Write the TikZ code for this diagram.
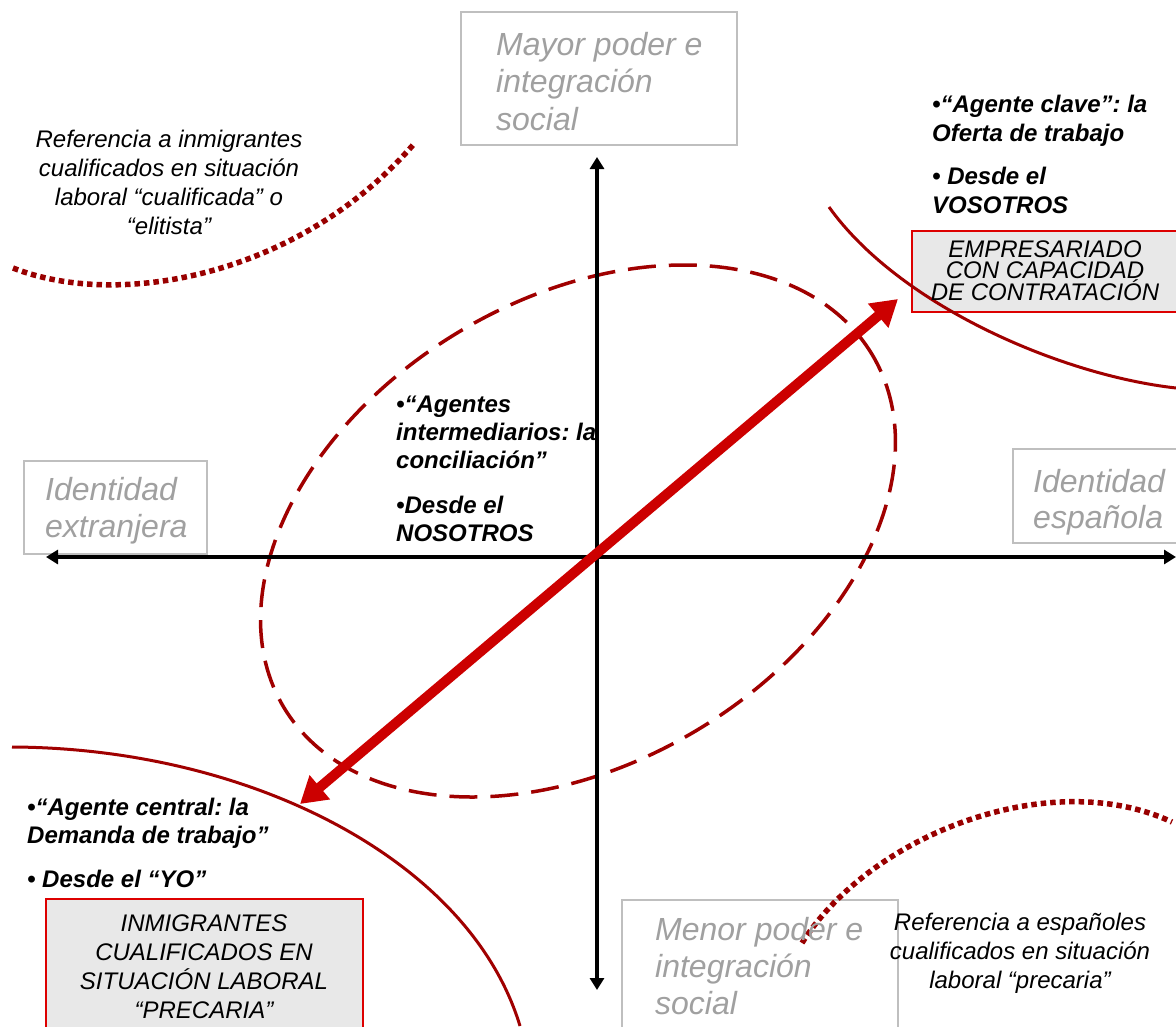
\documentclass[tikz,border=0pt]{standalone}
\usepackage{fontspec}
\setmainfont{Liberation Sans}
\usetikzlibrary{arrows.meta}
\definecolor{axred}{HTML}{CC0000}
\definecolor{dkred}{HTML}{A00000}
\definecolor{dotred}{HTML}{990000}
\definecolor{grtxt}{HTML}{A0A0A0}
\definecolor{grbox}{HTML}{BFBFBF}
\definecolor{boxfill}{HTML}{E8E8E8}
\definecolor{boxred}{HTML}{DD0000}
\frenchspacing
\begin{document}
\begin{tikzpicture}[x=1pt,y=-1pt,
 itxt/.style={inner sep=0pt, align=center, anchor=north, font=\itshape\fontsize{24}{29}\selectfont},
 btxt/.style={inner sep=0pt, align=left, anchor=north west, font=\bfseries\itshape\fontsize{24}{29}\selectfont},
 gtxt/.style={inner sep=0pt, text=grtxt, align=left, anchor=north west, font=\itshape\fontsize{32}{37}\selectfont},
 gbox/.style={draw=grbox, line width=2pt},
 rbox/.style={draw=boxred, fill=boxfill, line width=1.5pt},
 axisline/.style={line width=3.5pt, black, {Triangle[width=14pt,length=12pt]}-{Triangle[width=14pt,length=12pt]}},
 bigarrow/.style={line width=10pt, axred, {Triangle[width=30pt,length=26pt]}-{Triangle[width=30pt,length=26pt]}},
 solidcurve/.style={dkred, line width=3pt},
 dotcurve/.style={dotred, line width=5.5pt, dash pattern=on 5.5pt off 4pt},
 ellipsedash/.style={dkred, line width=3.5pt, dash pattern=on 28pt off 13pt}]
\useasboundingbox (0,0) rectangle (1176,1026);

% boxes
\draw[gbox] (461,12) rectangle (737,145);
\draw[gbox] (24,461) rectangle (207,554);
\draw[gbox] (1013,449) rectangle (1182,543);
\draw[gbox] (622,900) rectangle (898,1032);
\draw[rbox] (912,231) rectangle (1182,312);
\draw[rbox] (46,899) rectangle (363,1032);

% curves
\draw[solidcurve] (829,207) .. controls (899,305) and (1060,375) .. (1176,388);
\draw[solidcurve] (12,747) .. controls (250,748) and (470,860) .. (520,1026);
\draw[dotcurve] (13,268) .. controls (120,310) and (300,275) .. (413,145);
\draw[dotcurve] (802,943) .. controls (870,835) and (1050,765) .. (1172,822);

% ellipse
\draw[ellipsedash, rotate around={31:(578,531)}] (578,531) ellipse [x radius=343pt, y radius=232pt];

% axes
\coordinate (vtop) at (597,157);
\coordinate (vbot) at (597,990);
\coordinate (hleft) at (46,557);
\coordinate (hright) at (1176,557);
\draw[axisline] (vbot) -- (vtop);
\draw[axisline] (hleft) -- (hright);

% big arrow
\coordinate (ab) at (300,804);
\coordinate (at) at (898,299);
\draw[bigarrow] (ab) -- (at);

% texts
\node[itxt] (reftl) at (169,129) {\rule{0pt}{18pt}Referencia a inmigrantes\\cualificados en situación\\laboral “cualificada” o\\“elitista”};
\node[itxt] (refbr) at (1020,912) {\rule{0pt}{18pt}Referencia a españoles\\cualificados en situación\\laboral “precaria”};

\node[btxt] (clave) at (932,94) {\rule{0pt}{18pt}•“Agente clave”: la\\Oferta de trabajo\\[14pt]• Desde el\\VOSOTROS};
\node[btxt, font=\bfseries\itshape\fontsize{24}{28}\selectfont] (interm) at (396,394) {\rule{0pt}{18pt}•“Agentes\\intermediarios: la\\conciliación”\\[17pt]•Desde el\\NOSOTROS};
\node[btxt, font=\bfseries\itshape\fontsize{24}{28}\selectfont] (central) at (27,797) {\rule{0pt}{18pt}•“Agente central: la\\Demanda de trabajo”\\[16pt]• Desde el “YO”};

\node[gtxt, font=\itshape\fontsize{32}{37.5}\selectfont] (mayor) at (496,31) {\rule{0pt}{24pt}Mayor poder e\\integración\\social};
\node[gtxt] (extr) at (45,476) {\rule{0pt}{24pt}Identidad\\extranjera};
\node[gtxt, font=\itshape\fontsize{32}{36}\selectfont] (esp) at (1033,468) {\rule{0pt}{24pt}Identidad\\española};
\node[gtxt] (menor) at (655,916) {\rule{0pt}{24pt}Menor poder e\\integración\\social};

\node[itxt, font=\itshape\fontsize{24}{21.5}\selectfont] (empr) at (1045,239) {\rule{0pt}{18pt}EMPRESARIADO\\CON CAPACIDAD\\DE CONTRATACIÓN};
\node[itxt] (inmig) at (204,913) {\rule{0pt}{18pt}INMIGRANTES\\CUALIFICADOS EN\\SITUACIÓN LABORAL\\“PRECARIA”};
\end{tikzpicture}
\end{document}
